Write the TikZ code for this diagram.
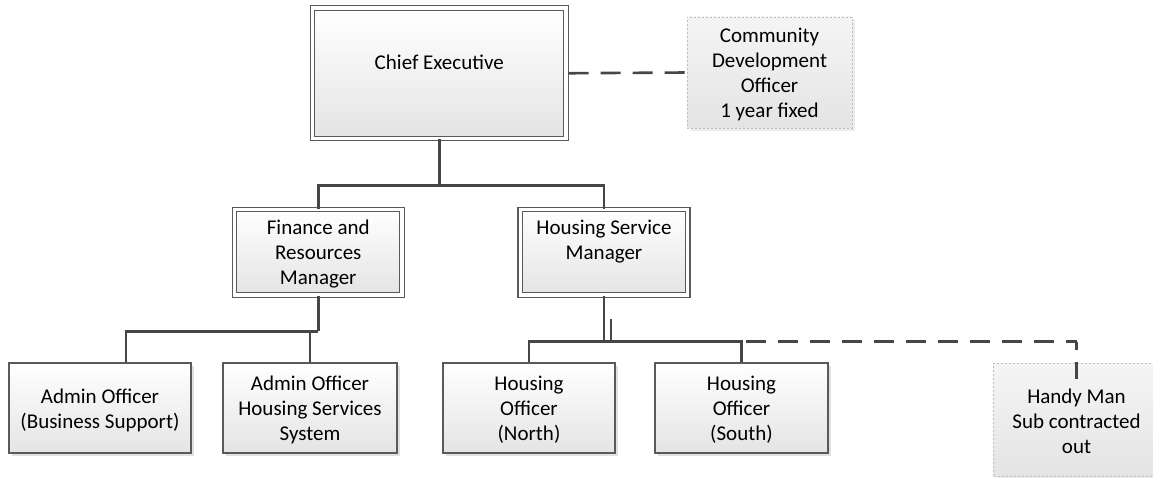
\documentclass[tikz,border=0pt]{standalone}
\usepackage{fontspec}
\setmainfont{Carlito}
\usetikzlibrary{shadows,calc}
\definecolor{edgecol}{HTML}{464646}
\definecolor{boxline}{HTML}{5A5A5A}
\definecolor{fillbot}{HTML}{E4E4E4}
\definecolor{dotline}{HTML}{BEBEBE}
\tikzset{
  lbl/.style={align=center, inner sep=0pt, font=\fontsize{21}{25}\selectfont},
  orgbox/.style={draw=boxline, line width=1.2pt, top color=white, bottom color=fillbot, inner sep=0pt,
    drop shadow={shadow xshift=3pt, shadow yshift=-3pt, opacity=0.24}},
  dblbox/.style={orgbox, double=white, double distance=3.2pt},
  tempbox/.style={draw=dotline, line width=0.8pt, dash pattern=on 2pt off 2pt, inner sep=0pt,
    top color=white!96!black, bottom color=fillbot,
    drop shadow={shadow xshift=3pt, shadow yshift=-3pt, opacity=0.15}},
  link/.style={draw=edgecol, line width=2.6pt},
  dashlink/.style={link, dash pattern=on 20pt off 12pt},
}
\begin{document}
\begin{tikzpicture}[x=1pt, y=-1pt]
\useasboundingbox (0,0) rectangle (1153,478);
% boxes
\node[dblbox, minimum width=253.5pt, minimum height=130.5pt] (CE) at (439.25,73.25) {};
\node[lbl] (CEt) at (439.25,62) {Chief Executive};
\node[tempbox, minimum width=165pt, minimum height=111pt] (CDO) at (769.5,72.5) {};
\node[lbl] (CDOt) at ([yshift=-2pt]CDO.center) {Community\\Development\\Officer\\1 year fixed};
\node[dblbox, minimum width=167.5pt, minimum height=85.5pt] (FRM) at (318.25,252.25) {};
\node[lbl] (FRMt) at ([yshift=-2pt]FRM.center) {Finance and\\Resources\\Manager};
\node[dblbox, minimum width=167.5pt, minimum height=85.5pt] (HSM) at (604,252.25) {};
\node[lbl] (HSMt) at (604,241.5) {Housing Service\\Manager};
\node[orgbox, minimum width=182pt, minimum height=90pt] (A1) at (100,408) {};
\node[lbl] (A1t) at ([yshift=-2pt]A1.center) {Admin Officer\\(Business Support)};
\node[orgbox, minimum width=174pt, minimum height=90pt] (A2) at (310,408) {};
\node[lbl] (A2t) at ([yshift=-2pt]A2.center) {Admin Officer\\Housing Services\\System};
\node[orgbox, minimum width=172pt, minimum height=90pt] (HON) at (529,408) {};
\node[lbl] (HONt) at ([yshift=-2pt]HON.center) {Housing\\Officer\\(North)};
\node[orgbox, minimum width=173pt, minimum height=90pt] (HOS) at (741.5,408) {};
\node[lbl] (HOSt) at ([yshift=-2pt]HOS.center) {Housing\\Officer\\(South)};
\node[tempbox, minimum width=166pt, minimum height=113pt] (HM) at (1076.5,419.5) {};
\node[lbl] (HMt) at ([yshift=-2pt]HM.center) {Handy Man\\Sub contracted\\out};
% connectors
\draw[link] (CE.south) -- ++(0,46.5) coordinate (j1);
\draw[link] (FRM.north) |- (j1) -| (HSM.north);
\draw[dashlink] ([xshift=2pt]CE.east) -- (CDO.west);
\draw[link] (FRM.south) -- ++(0,35.75) coordinate (j2);
\draw[link] ([xshift=26pt]A1.north) |- (j2);
\draw[link] (A2.north) -- (A2.north |- j2);
\draw[link] (HSM.south) -- ++(0,46) coordinate (j3);
\draw[link] (HON.north) |- (j3) -| (HOS.north);
\draw[link] ([xshift=7pt]j3) -- ++(0,-23);
\draw[dashlink, dash phase=28pt] (HOS.north |- j3) -- (HM.north |- j3) coordinate (j4);
\draw[dashlink, dash phase=12pt] (j4) -- ([yshift=-16pt]HM.north);
\end{tikzpicture}
\end{document}
